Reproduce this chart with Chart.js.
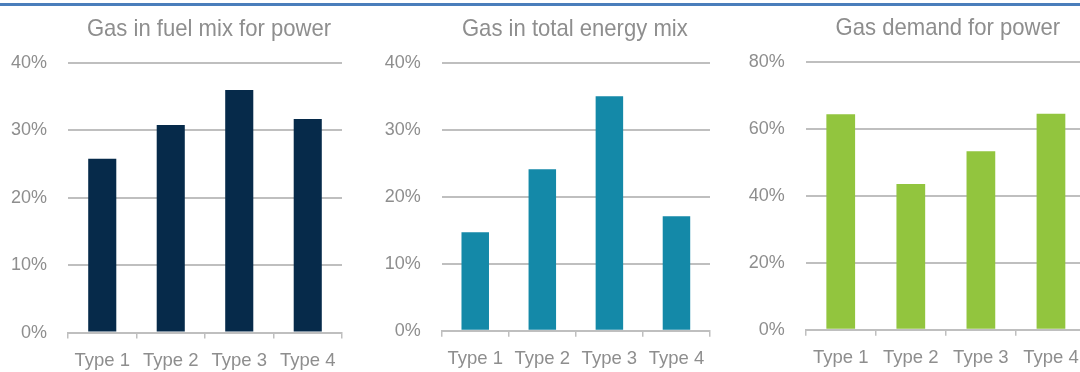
<!DOCTYPE html>
<html>
<head>
<meta charset="utf-8">
<script src="https://cdn.jsdelivr.net/npm/chart.js@4/dist/chart.umd.min.js"></script>
<style>
  html, body { margin: 0; padding: 0; background: #ffffff; }
  body { position: relative; width: 1080px; height: 372px; overflow: hidden; }
  .rule { position: absolute; left: 0; top: 3px; width: 1080px; height: 3px; background: #4a7ebb; }
  canvas { position: absolute; top: 0; }
</style>
</head>
<body>
<div class="rule"></div>
<canvas id="fuelMix" width="360" height="372" style="left:0px"></canvas>
<canvas id="energyMix" width="360" height="372" style="left:360px"></canvas>
<canvas id="powerDemand" width="380" height="372" style="left:720px"></canvas>
<script>
// Categories shared by the three panels
const categories = ['Type 1', 'Type 2', 'Type 3', 'Type 4'];

// Gas share in fuel mix for power (%)
const fuelMixValues = [25.8, 30.8, 36.0, 31.7];
// Gas share in total energy mix (%)
const energyMixValues = [14.7, 24.1, 35.0, 17.1];
// Gas demand for power (%)
const powerDemandValues = [64.3, 43.5, 53.3, 64.5];

// Panel titles and y-axis tick steps / maxima
const panelTitles = ['Gas in fuel mix for power', 'Gas in total energy mix', 'Gas demand for power'];
const axisMax = [40, 40, 80];
const axisStep = [10, 10, 20];

const TEXT_GRAY = '#8e8e8e';
const GRID_GRAY = '#bfbfbf';
const FONT = "'Liberation Sans', Arial, sans-serif";
const X_AXIS_HEIGHT = 40;

// Draws a panel heading centred over the plot area (slightly condensed type)
const panelTitle = {
  id: 'panelTitle',
  afterDraw(chart, args, opts) {
    const { ctx, chartArea } = chart;
    const cx = (chartArea.left + chartArea.right) / 2 + (opts.shift || 0);
    ctx.save();
    ctx.translate(cx, opts.baseline);
    ctx.scale(opts.squeeze, 1);
    ctx.font = opts.size + 'px ' + FONT;
    ctx.fillStyle = TEXT_GRAY;
    ctx.textAlign = 'center';
    ctx.textBaseline = 'alphabetic';
    ctx.fillText(opts.text, 0, 0);
    ctx.restore();
  }
};

function makePanel(id, values, color, idx, pad, baseline, shift) {
  return new Chart(document.getElementById(id), {
    type: 'bar',
    data: {
      labels: categories,
      datasets: [{
        data: values,
        backgroundColor: color,
        borderWidth: 0,
        categoryPercentage: 1,
        barPercentage: 0.41
      }]
    },
    plugins: [panelTitle],
    options: {
      responsive: false,
      animation: false,
      events: [],
      layout: { padding: pad },
      plugins: {
        legend: { display: false },
        tooltip: { enabled: false },
        title: { display: false },
        panelTitle: { text: panelTitles[idx], size: 24, squeeze: 0.92, baseline: baseline, shift: shift }
      },
      scales: {
        x: {
          afterFit(scale) { scale.height = X_AXIS_HEIGHT; },
          grid: {
            offset: true,
            drawOnChartArea: false,
            drawTicks: true,
            tickLength: 6,
            color: GRID_GRAY,
            lineWidth: 1.5
          },
          border: { display: true, color: GRID_GRAY, width: 2 },
          ticks: {
            color: TEXT_GRAY,
            font: { family: FONT, size: 18.5 },
            padding: 11,
            maxRotation: 0,
            autoSkip: false
          }
        },
        y: {
          min: 0,
          max: axisMax[idx],
          afterFit(scale) { scale.width = 68; },
          grid: { drawTicks: false, color: GRID_GRAY, lineWidth: 2 },
          border: { display: false },
          ticks: {
            stepSize: axisStep[idx],
            color: TEXT_GRAY,
            font: { family: FONT, size: 18 },
            padding: 21,
            callback: (v) => v + '%'
          }
        }
      }
    }
  });
}

// Plot bottoms sit at 332.6 / 330.7 / 329.8 px, with the x axis box below them
makePanel('fuelMix', fuelMixValues, '#062a4a', 0,
  { left: 0, right: 18, top: 63, bottom: 372 - 332.6 - X_AXIS_HEIGHT }, 36, 4);
makePanel('energyMix', energyMixValues, '#1489a8', 1,
  { left: 13.7, right: 10, top: 62.7, bottom: 372 - 330.7 - X_AXIS_HEIGHT }, 36, -1);
makePanel('powerDemand', powerDemandValues, '#92c53e', 2,
  { left: 17.7, right: 14, top: 61.7, bottom: 372 - 329.8 - X_AXIS_HEIGHT }, 35, 2);
</script>
</body>
</html>
